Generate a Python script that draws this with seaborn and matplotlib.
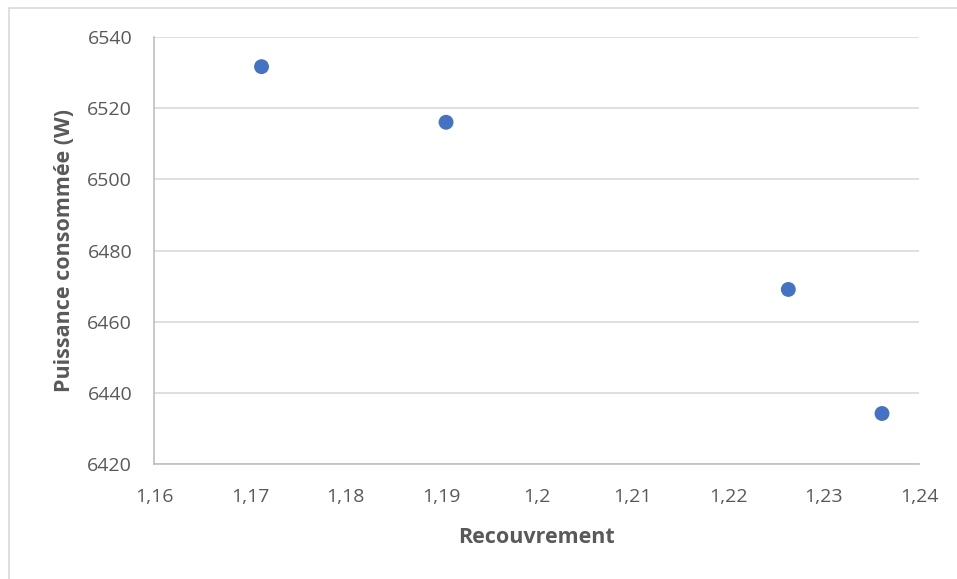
import pandas as pd
import matplotlib.pyplot as plt
import matplotlib.ticker as mticker
import seaborn as sns

# values
recouvrement = [1.1712, 1.1905, 1.2263, 1.2361]
puissance = [6531.6, 6516.0, 6469.1, 6434.3]

df = pd.DataFrame({'Recouvrement': recouvrement, 'Puissance': puissance})

sns.set_style('white')
plt.rcParams['font.family'] = ['Open Sans', 'DejaVu Sans']

grey = '#595959'

fig = plt.figure(figsize=(9.57, 5.79), dpi=100)
ax = fig.add_axes([0.1614, 0.1978, 0.7992, 0.7388])

# excel style chart frame
fig.patches.append(plt.Rectangle((9 / 957, -0.1), 1.2, 1 - 7.5 / 579 + 0.1,
                                 transform=fig.transFigure, fill=False,
                                 edgecolor='#D9D9D9', linewidth=1.2))

sns.scatterplot(data=df, x='Recouvrement', y='Puissance', ax=ax,
                color='#4472C4', s=115, edgecolor='none', zorder=3)

ax.set_xlim(1.16, 1.24)
ax.set_ylim(6420, 6540)
ax.xaxis.set_major_locator(mticker.MultipleLocator(0.01))
ax.yaxis.set_major_locator(mticker.MultipleLocator(20))
ax.xaxis.set_major_formatter(mticker.FuncFormatter(
    lambda v, p: ('%.2f' % v).rstrip('0').replace('.', ',')))
ax.yaxis.set_major_formatter(mticker.FuncFormatter(lambda v, p: '%d' % v))

ax.grid(axis='y', color='#D9D9D9', linewidth=1.2)
ax.set_axisbelow(True)
for side in ['top', 'right']:
    ax.spines[side].set_visible(False)
for side in ['left', 'bottom']:
    ax.spines[side].set_color('#BFBFBF')
    ax.spines[side].set_linewidth(1.2)

ax.tick_params(length=0, labelsize=14, labelcolor=grey)
ax.tick_params(axis='x', pad=17)
ax.tick_params(axis='y', pad=16)

ax.set_xlabel('Recouvrement', fontsize=15.5, fontweight='bold', color=grey, labelpad=15)
ax.set_ylabel('Puissance consommée (W)', fontsize=15.5, fontweight='bold', color=grey, labelpad=9)

fig.savefig('out.png', dpi=100)
